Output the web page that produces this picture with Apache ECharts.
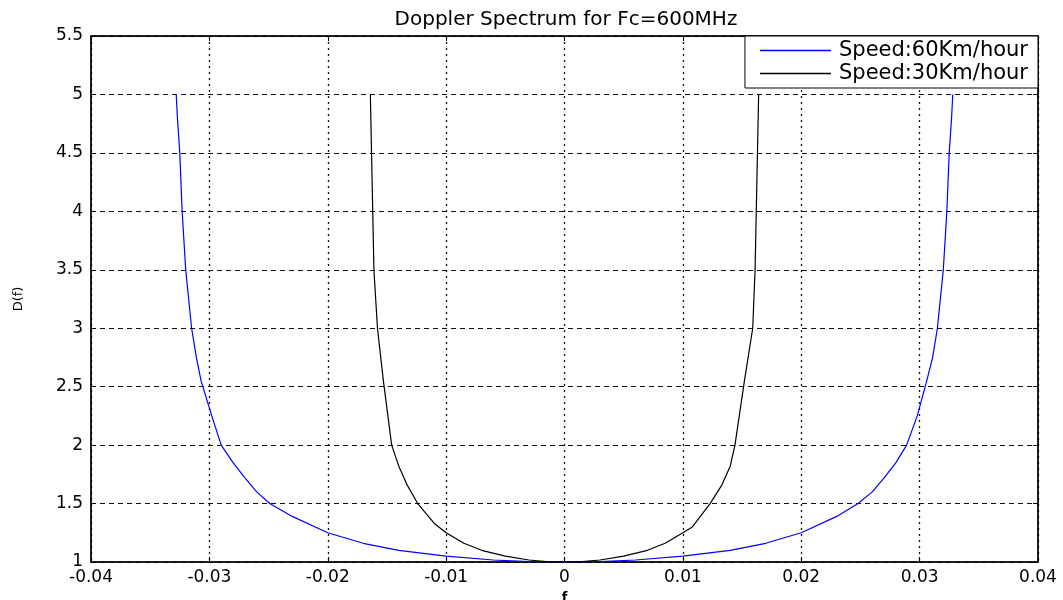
<!DOCTYPE html>
<html>
<head>
<meta charset="utf-8">
<title>Doppler Spectrum</title>
<script src="https://cdn.jsdelivr.net/npm/echarts@6/dist/echarts.min.js"></script>
<style>
  html, body { margin: 0; padding: 0; background: #fff; }
  #chart { width: 1063px; height: 600px; }
</style>
</head>
<body>
<div id="chart"></div>
<script>
// values (f, D(f))
var fast_f = [-0.0328, -0.0327, -0.0325, -0.0323, -0.0320, -0.0315, -0.0311, -0.0307, -0.0298, -0.0290,
  -0.0280, -0.0270, -0.0260, -0.0249, -0.0230, -0.0200, -0.0170, -0.0140, -0.0100, -0.0060, -0.0030, 0,
  0.0030, 0.0060, 0.0100, 0.0140, 0.0170, 0.0200, 0.0230, 0.0248, 0.0260, 0.0270, 0.0280, 0.0289,
  0.0298, 0.0306, 0.0311, 0.0315, 0.0320, 0.0323, 0.0325, 0.0327, 0.0328];
var fast_d = [5.0, 4.8, 4.5, 4.0, 3.5, 3.0, 2.75, 2.55, 2.25, 2.0,
  1.85, 1.72, 1.6, 1.5, 1.39, 1.25, 1.16, 1.10, 1.05, 1.017, 1.004, 1.0,
  1.004, 1.017, 1.05, 1.10, 1.16, 1.25, 1.39, 1.5, 1.6, 1.72, 1.85, 2.0,
  2.25, 2.55, 2.75, 3.0, 3.5, 4.0, 4.5, 4.8, 5.0];

var slow_f = [-0.0164, -0.0163, -0.0162, -0.0161, -0.0158, -0.0153, -0.0146, -0.0140, -0.0133, -0.0124,
  -0.0110, -0.0100, -0.0085, -0.0070, -0.0050, -0.0030, -0.0015, 0,
  0.0015, 0.0030, 0.0050, 0.0070, 0.0085, 0.0100, 0.0108, 0.0123, 0.0133, 0.0140, 0.0144,
  0.0152, 0.0159, 0.0161, 0.0162, 0.0163, 0.0164];
var slow_d = [5.0, 4.5, 4.0, 3.5, 3.0, 2.55, 2.0, 1.82, 1.66, 1.5,
  1.33, 1.25, 1.16, 1.10, 1.05, 1.017, 1.004, 1.0,
  1.004, 1.017, 1.05, 1.10, 1.16, 1.25, 1.3, 1.5, 1.66, 1.82, 2.0,
  2.55, 3.0, 3.5, 4.0, 4.5, 5.0];

var names = ['Speed:60Km/hour', 'Speed:30Km/hour'];

function pairs(xs, ys) {
  return xs.map(function (x, i) { return [x, ys[i]]; });
}

var font = 'DejaVu Sans, Liberation Sans, Arial, sans-serif';
var chart = echarts.init(document.getElementById('chart'));

var option = {
  animation: false,
  backgroundColor: '#fff',
  title: {
    text: 'Doppler Spectrum for Fc=600MHz',
    left: 561,
    textAlign: 'center',
    top: 5,
    textStyle: { fontFamily: font, fontSize: 20, fontWeight: 'normal', color: '#000' }
  },
  legend: {
    data: names,
    orient: 'vertical',
    right: 25,
    top: 36,
    backgroundColor: '#fff',
    borderColor: '#000',
    borderWidth: 1,
    borderRadius: 0,
    padding: [4, 10, 4, 15],
    icon: 'rect',
    itemWidth: 71,
    itemHeight: 1.3,
    itemGap: 2,
    textStyle: { fontFamily: font, fontSize: 21, color: '#000', padding: [0, 0, 0, 3] }
  },
  grid: {
    left: 91,
    right: 25,
    top: 36,
    bottom: 38,
    outerBoundsMode: 'none',
    containLabel: false,
    show: true,
    borderColor: '#000',
    borderWidth: 1
  },
  xAxis: [{
    type: 'value',
    min: -0.04,
    max: 0.04,
    interval: 0.01,
    name: 'f',
    nameLocation: 'middle',
    nameGap: 25,
    nameTextStyle: { fontFamily: font, fontSize: 13, color: '#000', fontWeight: 'bold' },
    axisLine: { onZero: false, lineStyle: { color: '#000', width: 1.5 } },
    axisTick: { inside: true, length: 5, lineStyle: { color: '#000' } },
    axisLabel: { fontFamily: font, fontSize: 17, color: '#000', margin: 7 },
    splitLine: { show: true, lineStyle: { color: '#111', type: [2, 4], width: 1.3 } }
  }, {
    type: 'value',
    position: 'top',
    min: -0.04,
    max: 0.04,
    interval: 0.01,
    axisLine: { onZero: false, lineStyle: { color: '#000', width: 1.5 } },
    axisTick: { inside: true, length: 5, lineStyle: { color: '#000' } },
    axisLabel: { show: false },
    splitLine: { show: false }
  }],
  yAxis: [{
    type: 'value',
    min: 1,
    max: 5.5,
    interval: 0.5,
    name: 'D(f)',
    nameLocation: 'middle',
    nameGap: 66,
    nameRotate: 90,
    nameTextStyle: { fontFamily: font, fontSize: 13, color: '#000' },
    axisLine: { show: true, onZero: false, lineStyle: { color: '#000', width: 1.5 } },
    axisTick: { show: true, inside: true, length: 5, lineStyle: { color: '#000' } },
    axisLabel: { fontFamily: font, fontSize: 17, color: '#000', margin: 8 },
    splitLine: { show: true, lineStyle: { color: '#111', type: [5, 4], width: 1 } }
  }, {
    type: 'value',
    position: 'right',
    min: 1,
    max: 5.5,
    interval: 0.5,
    axisLine: { show: true, onZero: false, lineStyle: { color: '#000', width: 1.5 } },
    axisTick: { show: true, inside: true, length: 5, lineStyle: { color: '#000' } },
    axisLabel: { show: false },
    splitLine: { show: false }
  }],
  series: [{
    name: names[0],
    type: 'line',
    symbol: 'none',
    data: pairs(fast_f, fast_d),
    itemStyle: { color: '#0000ff' },
    lineStyle: { color: '#0000ff', width: 1.2 }
  }, {
    name: names[1],
    type: 'line',
    symbol: 'none',
    data: pairs(slow_f, slow_d),
    itemStyle: { color: '#000' },
    lineStyle: { color: '#000', width: 1.2 }
  }]
};

chart.setOption(option);
</script>
</body>
</html>
